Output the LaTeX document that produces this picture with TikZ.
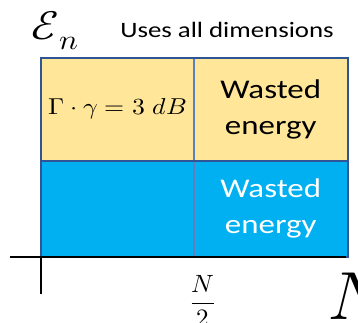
\documentclass[tikz,border=0pt]{standalone}
\usepackage{amsmath}
\usepackage{fontspec}
\usepackage{unicode-math}
\setmainfont{Carlito}[FakeStretch=1.22]
\setmathfont{Latin Modern Math}
\usetikzlibrary{positioning}
\definecolor{gainyellow}{HTML}{FFE699}
\definecolor{energyblue}{HTML}{00B0F0}
\definecolor{edgeblue}{HTML}{2F5597}
\definecolor{splitblue}{HTML}{5B7FC0}
\newcommand{\widemath}[1]{\scalebox{1.12}[1]{#1}}

\begin{document}
\begin{tikzpicture}[x=1pt,y=-1pt,
  cell/.style={draw=splitblue,line width=0.8pt,inner sep=0pt,align=center},
  wastetext/.style={font=\fontsize{27}{36}\selectfont},
  axis/.style={line width=1.6pt,black}]
  \useasboundingbox (0,0) rectangle (358,323);
  \clip (0,0) rectangle (358,323);
  % the four cells
  \node[cell,fill=gainyellow,anchor=north west,minimum width=152pt,minimum height=102pt] (gain) at (41,58)
       {\fontsize{23}{26}\selectfont\widemath{$\Gamma\cdot\gamma=3\ dB$}};
  \node[cell,fill=gainyellow,minimum width=153pt,minimum height=102pt,right=0pt of gain,wastetext] (wastetop) {Wasted\\energy};
  \node[cell,fill=energyblue,anchor=north west,minimum width=152pt,minimum height=95pt] (base) at (gain.south west) {};
  \node[cell,fill=energyblue,minimum width=153pt,minimum height=95pt,right=0pt of base,wastetext,text=white] (wastebot) {Wasted\\energy};
  \draw[edgeblue,line width=1.6pt] (gain.south west) -- (wastetop.south east);
  \draw[edgeblue,line width=1.8pt] (gain.north west) rectangle (wastebot.south east);
  % axes
  \coordinate (xstart) at (10,257);
  \coordinate (xend) at (346,257);
  \coordinate (ybottom) at (41,294);
  \draw[axis] (xstart) -- (xend);
  \draw[axis] (base.south west) -- (ybottom);
  % labels
  \node (energy) at (55,31) {\fontsize{40}{42}\selectfont\widemath{$\mathcal{E}_n$}};
  \node[font=\fontsize{22}{26}\selectfont] (title) at (227,30) {Uses all dimensions};
  \node (half) at (203,301) {\fontsize{25}{28}\selectfont$\dfrac{N}{2}$};
  \node[anchor=west,inner sep=0pt] (nmax) at (328,296) {\fontsize{68}{70}\selectfont$N$};
\end{tikzpicture}
\end{document}
